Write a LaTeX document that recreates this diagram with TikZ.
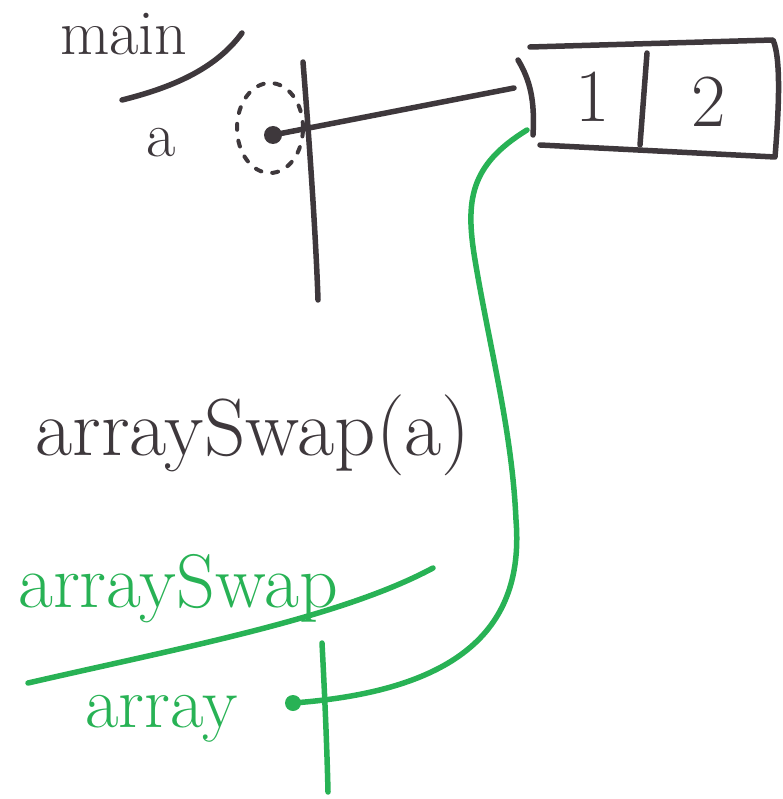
\documentclass[tikz,border=0pt]{standalone}
\definecolor{ink}{RGB}{62,56,60}
\definecolor{gink}{RGB}{40,178,85}
\begin{document}
\begin{tikzpicture}[x=1pt,y=-1pt,
  inkline/.style={draw=ink,line width=5.5pt,line cap=round,line join=round},
  gline/.style={draw=gink,line width=5.5pt,line cap=round,line join=round},
  inktext/.style={text=ink,inner sep=0pt,anchor=base west},
  gtext/.style={text=gink,inner sep=0pt,anchor=base west},
  dotnode/.style={circle,inner sep=0pt,minimum size=18pt}]
\useasboundingbox (0,0) rectangle (782,799);
% texts
\node[inktext,font=\fontsize{64}{64}\selectfont] (main) at (60,55) {main};
\node[inktext,font=\fontsize{64}{64}\selectfont] (va) at (146,157) {a};
\node[inktext,font=\fontsize{81}{81}\selectfont] (call) at (35,455) {arraySwap(a)};
\node[gtext,font=\fontsize{76}{76}\selectfont] (fname) at (18,607) {arraySwap};
\node[gtext,font=\fontsize{73}{73}\selectfont] (varr) at (85,727) {array};
\node[text=ink,inner sep=0pt,anchor=base,font=\fontsize{75}{75}\selectfont] (c1) at (593,122) {1};
\node[text=ink,inner sep=0pt,anchor=base,font=\fontsize{75}{75}\selectfont] (c2) at (709,127) {2};
% main frame
\draw[inkline] (122,100) .. controls (170,88) and (215,70) .. (242,33);
\draw[inkline] (303,62) .. controls (310,150) and (316,240) .. (318,300);
\draw[draw=ink,line width=4pt,line cap=round,dash pattern=on 6pt off 11pt] (270,128) ellipse [x radius=33pt, y radius=45pt];
\node[dotnode,fill=ink] (pa) at (273,135) {};
% array box
\draw[inkline] (518,60) .. controls (530,80) and (535,100) .. (533,135);
\draw[inkline] (530,47) -- (773,40) .. controls (782,60) and (778,120) .. (775,157) -- (540,145);
\draw[inkline] (647,53) -- (640,145);
\coordinate (boxin) at (514,88);
\coordinate (boxout) at (527,130);
\draw[inkline] (pa.center) -- (boxin);
% arraySwap frame
\draw[gline] (28,683) .. controls (180,648) and (340,618) .. (433,568);
\draw[gline] (322,643) .. controls (325,700) and (327,750) .. (328,792);
\node[dotnode,fill=gink,minimum size=16pt] (parr) at (293,703) {};
\draw[gline] (boxout) .. controls (470,165) and (465,200) .. (475,260)
  .. controls (490,350) and (512,430) .. (516,520)
  .. controls (524,620) and (470,690) .. (parr.center);
\end{tikzpicture}
\end{document}
